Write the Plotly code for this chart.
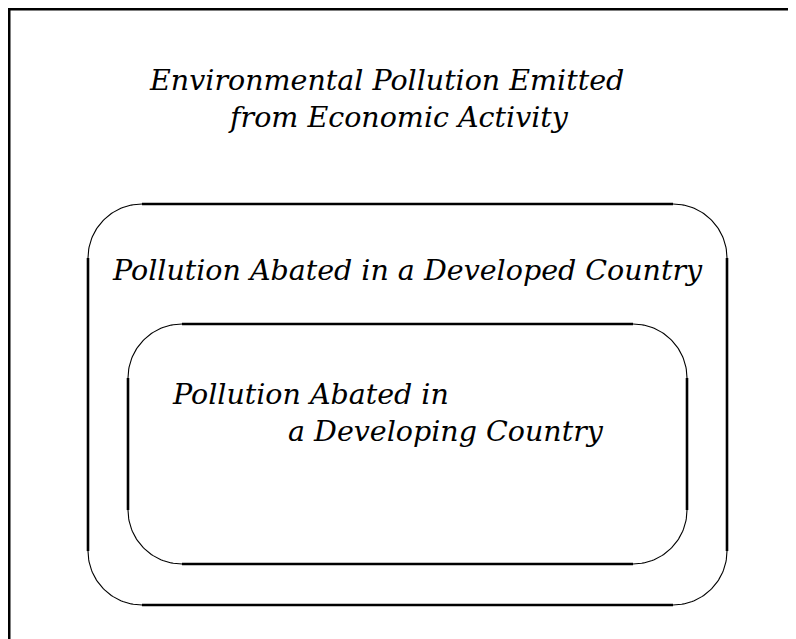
import numpy as np
import plotly.graph_objects as go

W, H = 796, 639
OFF = 8  # page body margin; axis ranges are set so data units equal page pixels

# Text labels (line by line) and their centre positions in page-pixel space
labels = [
    "Environmental Pollution Emitted",
    "from Economic Activity",
    "Pollution Abated in a Developed Country",
    "Pollution Abated in",
    "a Developing Country",
]
label_x = [386, 398, 407, 310, 446]
label_y = [80, 117, 270, 394, 431]

# Rounded boxes: [x0, y0, x1, y1]
box_outer = [88, 204, 727, 605]
box_inner = [128, 324, 687, 564]
corner_radius = [54, 54]

FONT = "DejaVu Serif"
FS = 28.5

fig = go.Figure()

def add_box(b, r):
    x0, y0, x1, y1 = b
    segs = [((x0 + r, y0), (x1 - r, y0)),
            ((x0 + r, y1), (x1 - r, y1)),
            ((x0, y0 + r), (x0, y1 - r)),
            ((x1, y0 + r), (x1, y1 - r))]
    for (a, c) in segs:
        fig.add_trace(go.Scatter(x=[a[0], c[0]], y=[a[1], c[1]], mode="lines",
                                 line=dict(color="black", width=2.6),
                                 hoverinfo="skip", showlegend=False))
    corners = [((x0 + r, y0 + r), np.pi, 1.5 * np.pi),
               ((x1 - r, y0 + r), 1.5 * np.pi, 2 * np.pi),
               ((x1 - r, y1 - r), 0, 0.5 * np.pi),
               ((x0 + r, y1 - r), 0.5 * np.pi, np.pi)]
    for (cx, cy), t0, t1 in corners:
        t = np.linspace(t0, t1, 40)
        fig.add_trace(go.Scatter(x=cx + r * np.cos(t), y=cy + r * np.sin(t), mode="lines",
                                 line=dict(color="black", width=1.1),
                                 hoverinfo="skip", showlegend=False))

add_box(box_outer, corner_radius[0])
add_box(box_inner, corner_radius[1])

# outer frame (left and top edges visible)
fig.add_shape(type="line", xref="paper", yref="paper", x0=0, x1=0, y0=0, y1=1,
              line=dict(color="black", width=5))
fig.add_shape(type="line", xref="paper", yref="paper", x0=0, x1=1, y0=1, y1=1,
              line=dict(color="black", width=5))

for t, x, y in zip(labels, label_x, label_y):
    fig.add_annotation(x=x, y=y, text="<i>" + t + "</i>", showarrow=False,
                       xanchor="center", yanchor="middle",
                       font=dict(family=FONT, size=FS, color="black"))

fig.update_layout(width=W, height=H, margin=dict(l=0, r=0, t=0, b=0),
                  paper_bgcolor="white", plot_bgcolor="white",
                  xaxis=dict(range=[OFF, W + OFF], visible=False, fixedrange=True),
                  yaxis=dict(range=[H + OFF, OFF], visible=False, fixedrange=True),
                  showlegend=False)

fig.write_html("out.html")
